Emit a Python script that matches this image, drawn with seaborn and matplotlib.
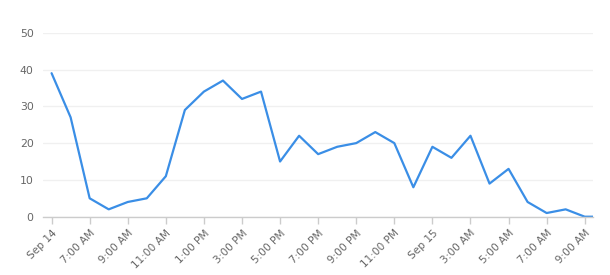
import matplotlib
matplotlib.use("Agg")
import matplotlib.pyplot as plt
import seaborn as sns
import pandas as pd

# ---- data ----
start_time = "2023-09-14 05:00"
n_hours = 30
values = [39, 27, 5, 2, 4, 5, 11, 29, 34, 37, 32, 34, 15, 22, 17, 19, 20, 23, 20,
          8, 19, 16, 22, 9, 13, 4, 1, 2, 0, 0]
y_ticks = [0, 10, 20, 30, 40, 50]

times = pd.date_range(start_time, periods=n_hours, freq="h")
df = pd.DataFrame({"time": times, "value": values})

sns.set_theme(style="white")
plt.rcParams["font.family"] = ["DejaVu Sans"]

fig = plt.figure(figsize=(6.10, 2.75), dpi=100)
ax = fig.add_axes([0.070, 0.212, 0.9026, 0.669])

sns.lineplot(data=df, x="time", y="value", ax=ax, color="#3a8ee6", linewidth=1.6)

# x range: about half an hour of padding before the first and after the 9 AM tick
ax.set_xlim(times[0] - pd.Timedelta(minutes=28), times[28] + pd.Timedelta(minutes=27))
ax.set_ylim(0, 50)
ax.set_yticks(y_ticks)

tick_times = pd.date_range(times[0], times[28], freq="2h")
ax.set_xticks(tick_times)

labels = []
prev_day = None
for t in tick_times:
    if t.day != prev_day:
        labels.append(t.strftime("%b ") + str(t.day))
    else:
        labels.append(t.strftime("%I:%M %p").lstrip("0"))
    prev_day = t.day
ax.set_xticklabels(labels)

for lab in ax.get_xticklabels():
    lab.set_rotation(45)
    lab.set_ha("right")
    lab.set_rotation_mode("anchor")

ax.set_xlabel("")
ax.set_ylabel("")

ax.grid(axis="y", color="#f0f0f0", linewidth=1.0)
ax.grid(axis="x", visible=False)
for s in ["top", "right", "left"]:
    ax.spines[s].set_visible(False)
ax.spines["bottom"].set_color("#cccccc")
ax.spines["bottom"].set_linewidth(1.0)
ax.spines["bottom"].set_zorder(3)

ax.tick_params(axis="x", which="both", bottom=True, length=5, width=1, color="#cccccc",
               labelsize=7.6, labelcolor="#666666", pad=3)
ax.tick_params(axis="y", left=False, length=0, labelsize=7.8, labelcolor="#666666", pad=6.5)

fig.savefig("out.png", dpi=100, facecolor="white")
